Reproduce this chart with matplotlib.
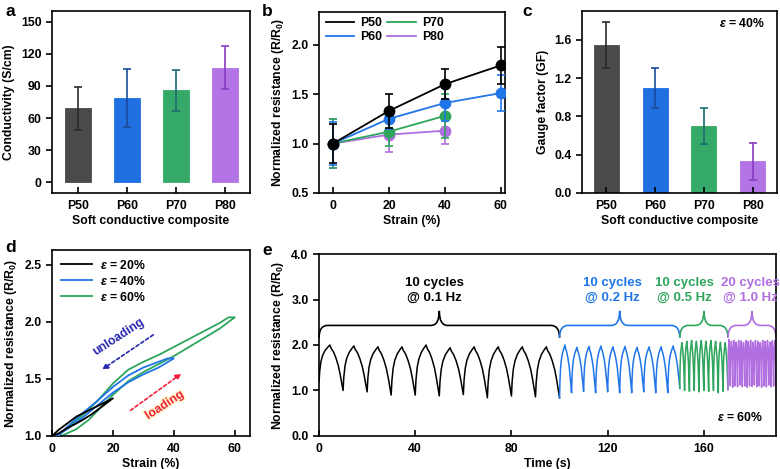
import numpy as np
import matplotlib
matplotlib.use("Agg")
import matplotlib.pyplot as plt
from matplotlib.path import Path
from matplotlib.patches import PathPatch
from matplotlib.lines import Line2D
import matplotlib.patheffects as pe

plt.rcParams['font.family'] = ['Liberation Sans', 'DejaVu Sans']
plt.rcParams['font.weight'] = 'bold'
plt.rcParams['axes.labelweight'] = 'bold'
plt.rcParams['font.size'] = 8.8
plt.rcParams['mathtext.fontset'] = 'custom'
plt.rcParams['mathtext.rm'] = 'Liberation Sans:bold'
plt.rcParams['mathtext.it'] = 'Liberation Sans:italic:bold'
plt.rcParams['mathtext.bf'] = 'Liberation Sans:bold'
plt.rcParams['axes.linewidth'] = 1.2

# ---- data ----
samples = ['P50', 'P60', 'P70', 'P80']
cond = [69, 79, 86, 107]
cond_err = [20, 27, 19, 20]

strain_b = [0, 20, 40, 60]
res_b = {
    'P50': [1.0, 1.33, 1.60, 1.79],
    'P60': [1.0, 1.25, 1.41, 1.51],
    'P70': [1.0, 1.12, 1.28],
    'P80': [1.0, 1.09, 1.13],
}
res_b_err = {
    'P50': [0.20, 0.17, 0.15, 0.19],
    'P60': [0.22, 0.10, 0.18, 0.18],
    'P70': [0.25, 0.15, 0.22],
    'P80': [0.25, 0.18, 0.13],
}

gf = [1.55, 1.10, 0.70, 0.33]
gf_err = [0.24, 0.21, 0.19, 0.19]

# hysteresis loops (loading then unloading)
d20_x = [0, 2, 5, 8, 10, 13, 16, 20, 17, 14, 11, 8, 5, 2, 0]
d20_y = [1.0, 1.02, 1.07, 1.11, 1.14, 1.19, 1.25, 1.33, 1.29, 1.25, 1.21, 1.17, 1.11, 1.05, 1.0]
d40_x = [1, 5, 10, 15, 20, 25, 30, 35, 40, 38, 34, 30, 25, 20, 15, 10, 5, 2]
d40_y = [1.0, 1.06, 1.16, 1.27, 1.38, 1.47, 1.54, 1.60, 1.68, 1.68, 1.64, 1.60, 1.53, 1.43, 1.31, 1.20, 1.08, 1.0]
d60_x = [3, 8, 12, 16, 20, 25, 30, 35, 40, 45, 50, 55, 60, 58, 55, 50, 45, 40, 35, 30, 25, 20, 15, 10, 5, 2]
d60_y = [1.0, 1.06, 1.14, 1.25, 1.36, 1.48, 1.56, 1.63, 1.70, 1.78, 1.86, 1.94, 2.04, 2.04, 1.99, 1.92, 1.85, 1.78, 1.71, 1.65, 1.58, 1.46, 1.31, 1.18, 1.07, 1.0]

# cyclic test: per-cycle troughs/peaks
seg_start = [0, 100, 150, 170]
seg_period = [10, 5, 2, 1]
seg_troughs = [
    [1.19, 1.0, 0.97, 0.9, 0.9, 0.88, 0.91, 0.84, 0.88, 0.86, 0.84],
    [0.84, 0.95, 0.98, 0.95, 0.97, 0.95, 0.95, 0.97, 0.95, 0.95, 1.05],
    [1.05, 1.0, 0.98, 1.0, 0.97, 1.0, 0.98, 1.0, 0.95, 0.98, 1.02],
    [1.02, 1.1, 1.07, 1.1, 1.08, 1.12, 1.08, 1.1, 1.07, 1.1, 1.09,
     1.12, 1.08, 1.1, 1.07, 1.1, 1.08, 1.12, 1.08, 1.1, 1.08],
]
seg_peaks = [
    [2.0, 1.98, 1.96, 1.96, 2.0, 1.94, 1.96, 1.96, 1.96, 1.96],
    [2.0, 1.95, 1.97, 1.98, 1.96, 1.97, 1.95, 1.96, 1.96, 1.98],
    [2.05, 2.08, 2.1, 2.08, 2.1, 2.08, 2.1, 2.08, 2.06, 2.05],
    [2.12, 2.08, 2.1, 2.06, 2.1, 2.09, 2.05, 2.1, 2.08, 2.1,
     2.06, 2.1, 2.08, 2.05, 2.1, 2.08, 2.1, 2.06, 2.09, 2.1],
]
# shape of one cycle (phase, fraction of swing)
cyc_phase = [0, 0.03, 0.08, 0.15, 0.25, 0.35, 0.45, 0.5, 0.6, 0.7, 0.8, 0.88, 0.94, 1.0]
cyc_frac = [0, 0.3, 0.55, 0.72, 0.85, 0.93, 1.0, 0.93, 0.85, 0.72, 0.55, 0.35, 0.18, 0]
seg_labels = ['10 cycles\n@ 0.1 Hz', '10 cycles\n@ 0.2 Hz', '10 cycles\n@ 0.5 Hz', '20 cycles\n@ 1.0 Hz']

bar_colors = ['#4a4a4a', '#1f6fe0', '#35aa68', '#b374e6']
err_colors = ['#2a2a2a', '#1a4c9c', '#1d6b70', '#8a3cc4']
line_colors = {'P50': '#000000', 'P60': '#2076e8', 'P70': '#2ea55c', 'P80': '#b06ee0'}
FS = 8.8


def style(ax):
    ax.tick_params(axis='x', direction='in', length=4, width=1.2, labelsize=FS, pad=5)
    ax.tick_params(axis='y', direction='out', length=4, width=1.2, labelsize=FS)


fig = plt.figure(figsize=(7.8, 4.69), dpi=100)

# ---- a ----
ax = fig.add_axes([0.0667, 0.5885, 0.2538, 0.388])
x = np.arange(len(samples))
ax.bar(x, cond, width=0.53, color=bar_colors, edgecolor=bar_colors, linewidth=0.6)
for i in range(len(samples)):
    ax.errorbar(x[i], cond[i], yerr=cond_err[i], color=err_colors[i], capsize=3, elinewidth=1.2, capthick=1.2)
ax.set_xlim(-0.53, 3.5)
ax.set_ylim(-10, 160)
ax.set_yticks([0, 30, 60, 90, 120, 150])
ax.set_xticks(x)
ax.set_xticklabels(samples)
ax.set_ylabel('Conductivity (S/cm)')
ax.set_xlabel('Soft conductive composite', labelpad=2)
style(ax)

# ---- b ----
ax = fig.add_axes([0.409, 0.5885, 0.2385, 0.386])
zo = {'P50': 6, 'P60': 5, 'P70': 4, 'P80': 3}
for k in samples:
    n = len(res_b[k])
    ax.errorbar(strain_b[:n], res_b[k], yerr=res_b_err[k], color=line_colors[k], marker='o',
                markersize=7.5, linewidth=1.3, capsize=3, capthick=1.2, elinewidth=1.2,
                zorder=zo[k])
handles = [Line2D([], [], color=line_colors[k], lw=1.3) for k in samples]
ax.legend(handles, samples, ncol=2, loc='upper left', frameon=False, fontsize=FS, handlelength=2.3,
          columnspacing=0.4, handletextpad=0.5, labelspacing=0.15, borderaxespad=0.2,
          bbox_to_anchor=(0.0, 1.01))
ax.set_xlim(-5, 61.5)
ax.set_ylim(0.5, 2.33)
ax.set_xticks([0, 20, 40, 60])
ax.set_yticks([0.5, 1.0, 1.5, 2.0])
ax.set_xlabel('Strain (%)', labelpad=2)
ax.set_ylabel('Normalized resistance (R/R$_0$)')
style(ax)

# ---- c ----
ax = fig.add_axes([0.7462, 0.5885, 0.25, 0.388])
ax.bar(x, gf, width=0.51, color=bar_colors, edgecolor=bar_colors, linewidth=0.6)
for i in range(len(samples)):
    ax.errorbar(x[i], gf[i], yerr=gf_err[i], color=err_colors[i], capsize=3, elinewidth=1.2, capthick=1.2)
ax.set_xlim(-0.5, 3.5)
ax.set_ylim(0, 1.9)
ax.set_yticks([0.0, 0.4, 0.8, 1.2, 1.6])
ax.set_xticks(x)
ax.set_xticklabels(samples)
ax.set_ylabel('Gauge factor (GF)')
ax.set_xlabel('Soft conductive composite', labelpad=2)
ax.text(0.94, 0.93, r'$\varepsilon$ = 40%', transform=ax.transAxes, ha='right', va='center', fontsize=FS)
style(ax)

# ---- d ----
ax = fig.add_axes([0.0667, 0.0704, 0.2538, 0.3966])
ax.plot(d60_x, d60_y, color='#2ea55c', linewidth=1.3, label=r'$\varepsilon$ = 60%', zorder=2)
ax.plot(d40_x, d40_y, color='#2076e8', linewidth=1.3, label=r'$\varepsilon$ = 40%', zorder=3)
ax.plot(d20_x, d20_y, color='#000000', linewidth=1.3, label=r'$\varepsilon$ = 20%', zorder=4)
h, l = ax.get_legend_handles_labels()
ax.legend(h[::-1], l[::-1], loc='upper left', frameon=False, fontsize=FS, handlelength=2.6,
          handletextpad=0.6, labelspacing=0.25, borderaxespad=0.3)
ax.annotate('', xy=(15.7, 1.57), xytext=(34, 1.90),
            arrowprops=dict(arrowstyle='-|>', color='#2626b0', linestyle=(0, (2, 1.5)), lw=1.2,
                            mutation_scale=8))
ax.text(22, 1.87, 'unloading', color='#2626b0', rotation=33, ha='center', va='center', fontsize=FS)
ax.annotate('', xy=(43.2, 1.56), xytext=(25, 1.21),
            arrowprops=dict(arrowstyle='-|>', color='#f0203c', linestyle=(0, (2, 1.5)), lw=1.2,
                            mutation_scale=8))
ax.text(37, 1.27, 'loading', color='#f0203c', rotation=33, ha='center', va='center', fontsize=FS,
        path_effects=[pe.withStroke(linewidth=2, foreground='#fff4c4')])
ax.set_xlim(0, 65)
ax.set_ylim(1.0, 2.63)
ax.set_xticks([0, 20, 40, 60])
ax.set_yticks([1.0, 1.5, 2.0, 2.5])
ax.set_xlabel('Strain (%)', labelpad=2)
ax.set_ylabel('Normalized resistance (R/R$_0$)')
style(ax)

# ---- e ----
ax = fig.add_axes([0.409, 0.0704, 0.5859, 0.388])
seg_colors = ['#000000', '#2076e8', '#2ea55c', '#b06ee0']
text_x = [48, 122, 152, 179.5]
for s in range(4):
    tt, yy = [], []
    for c in range(len(seg_peaks[s])):
        t0 = seg_start[s] + c * seg_period[s]
        lo0, lo1, hi = seg_troughs[s][c], seg_troughs[s][c + 1], seg_peaks[s][c]
        for ph, fr in zip(cyc_phase, cyc_frac):
            base = lo0 if ph <= 0.45 else lo1
            tt.append(t0 + ph * seg_period[s])
            yy.append(base + fr * (hi - base))
    ax.plot(tt, yy, color=seg_colors[s], linewidth=1.1)
    # curly brace over the segment
    x0 = seg_start[s]
    x1 = seg_start[s] + seg_period[s] * len(seg_peaks[s])
    xm = (x0 + x1) / 2
    r = 3.5
    y0, y1, y2 = 2.16, 2.43, 2.75
    verts = [(x0, y0), (x0, y1), (x0 + r, y1), (xm - r, y1), (xm, y1), (xm, y2),
             (xm, y1), (xm + r, y1), (x1 - r, y1), (x1, y1), (x1, y0)]
    codes = [Path.MOVETO, Path.CURVE3, Path.CURVE3, Path.LINETO, Path.CURVE3, Path.CURVE3,
             Path.CURVE3, Path.CURVE3, Path.LINETO, Path.CURVE3, Path.CURVE3]
    ax.add_patch(PathPatch(Path(verts, codes), facecolor='none', edgecolor=seg_colors[s], lw=1.2,
                           clip_on=False))
    ax.text(text_x[s], 3.2, seg_labels[s], color=seg_colors[s], ha='center', va='center',
            fontsize=9.5, linespacing=1.35)
ax.text(175, 0.4, r'$\varepsilon$ = 60%', ha='center', va='center', fontsize=FS)
ax.set_xlim(0, 190)
ax.set_ylim(0, 4)
ax.set_xticks([0, 40, 80, 120, 160])
ax.set_yticks([0.0, 1.0, 2.0, 3.0, 4.0])
ax.yaxis.set_major_formatter(plt.FormatStrFormatter('%.1f'))
ax.set_xlabel('Time (s)', labelpad=2)
ax.set_ylabel('Normalized resistance (R/R$_0$)')
style(ax)

for lab, px, py in [('a', 5, 12), ('b', 262, 12), ('c', 522, 12), ('d', 5, 247), ('e', 262, 250)]:
    fig.text(px / 780, 1 - py / 469, lab, fontsize=12.5, fontweight='bold', ha='left', va='center')

fig.savefig('out.png', dpi=100)
